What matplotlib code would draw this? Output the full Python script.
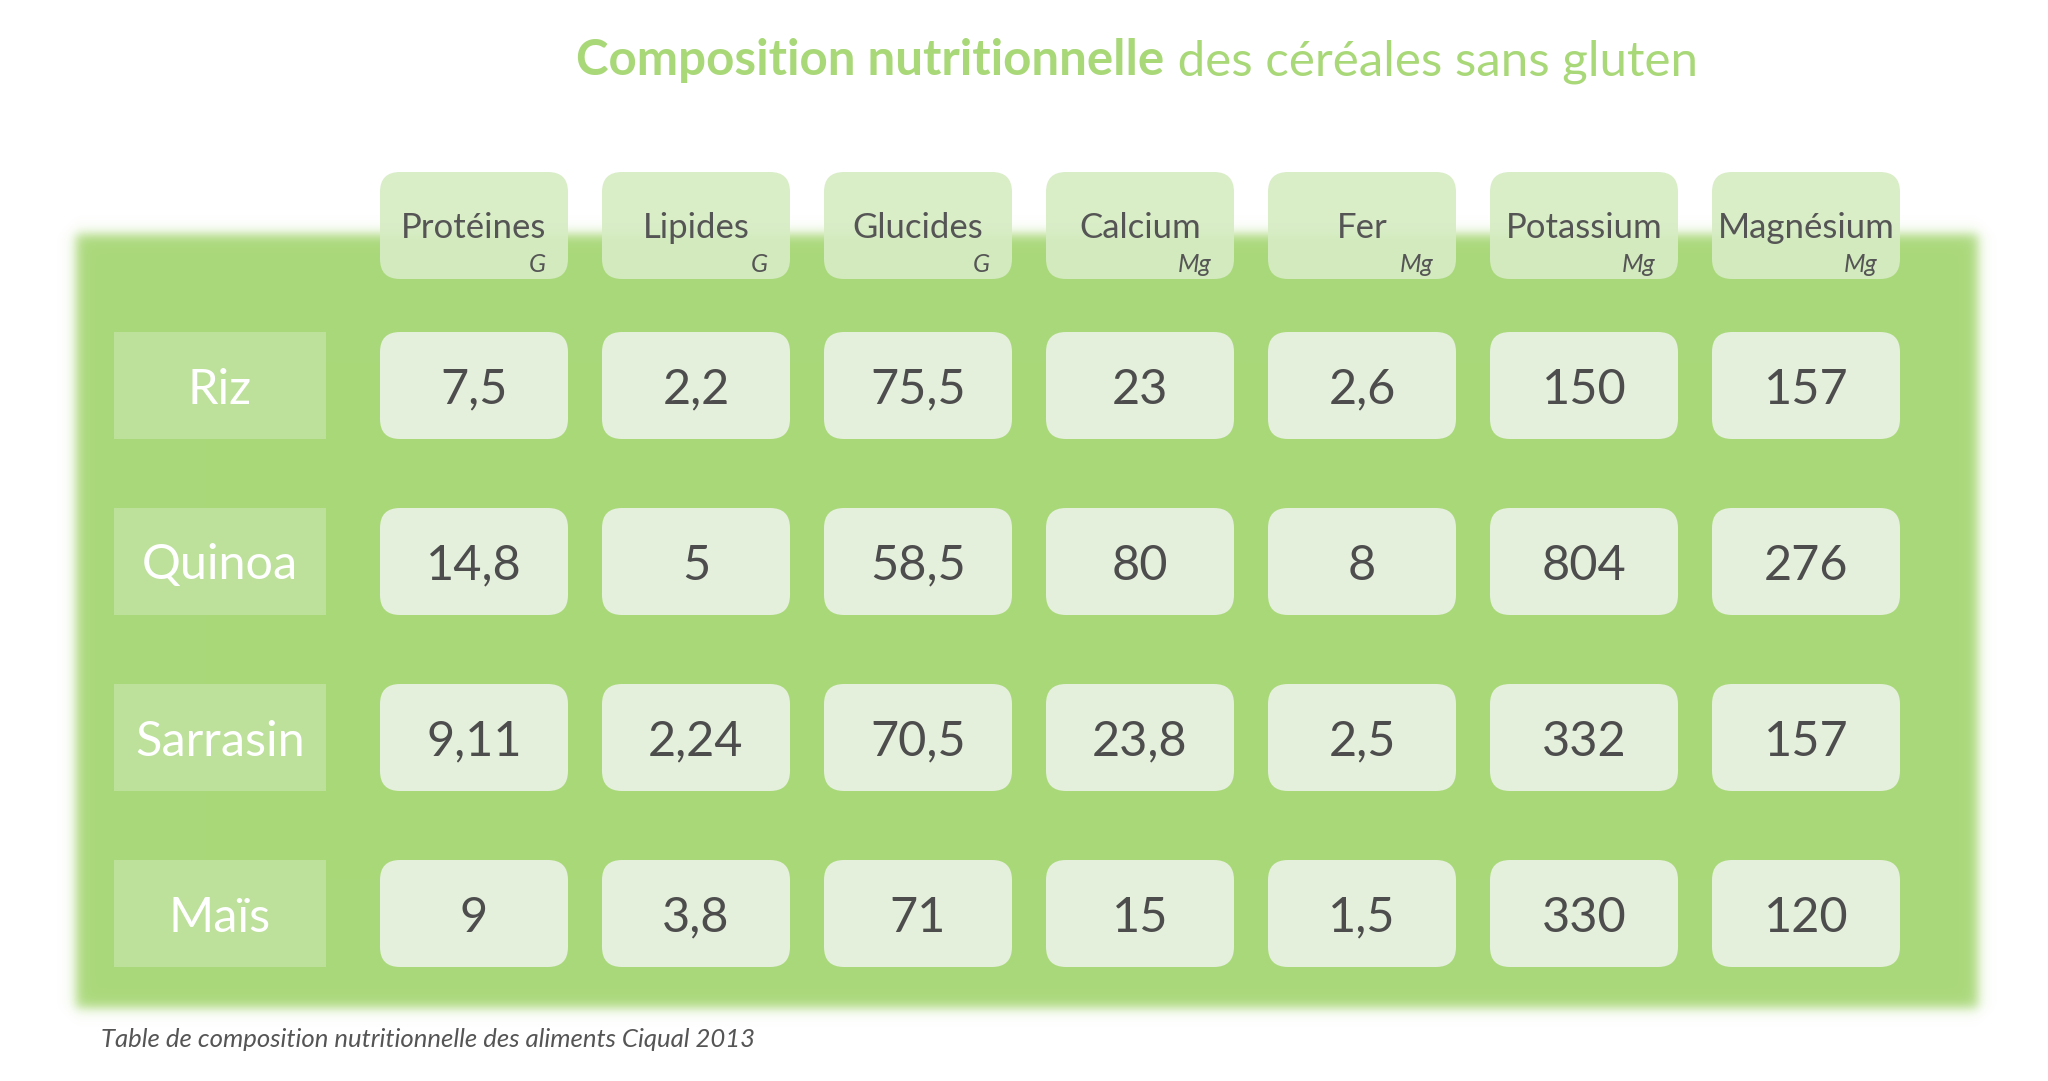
import numpy as np
import matplotlib
matplotlib.use("Agg")
import matplotlib.pyplot as plt
from matplotlib.patches import FancyBboxPatch, Rectangle

# === DATA ====================================================================
cereals = ["Riz", "Quinoa", "Sarrasin", "Maïs"]
nutrients = ["Protéines", "Lipides", "Glucides", "Calcium", "Fer", "Potassium", "Magnésium"]
units = ["G", "G", "G", "Mg", "Mg", "Mg", "Mg"]

riz = [7.5, 2.2, 75.5, 23, 2.6, 150, 157]
quinoa = [14.8, 5, 58.5, 80, 8, 804, 276]
sarrasin = [9.11, 2.24, 70.5, 23.8, 2.5, 332, 157]
mais = [9, 3.8, 71, 15, 1.5, 330, 120]
values = [riz, quinoa, sarrasin, mais]

title_bold = "Composition nutritionnelle"
title_rest = " des céréales sans gluten"
source = "Table de composition nutritionnelle des aliments Ciqual 2013"
# ============================================================================

W, H = 2048, 1081
GREEN = "#a9d879"
HEADER = "#d6ecc3"
CELL = "#e4f0dc"
LABEL = "#bde09b"
TXT = "#555555"

# layout (pixels)
col_x0, col_step, col_w = 380, 222, 188
row_y0, row_step, row_h = 332, 176, 107
head_y, head_h = 172, 107
lab_x, lab_w = 114, 212
radius = 20

plt.rcParams["font.family"] = ["Lato", "DejaVu Sans"]

fig = plt.figure(figsize=(W / 100, H / 100), dpi=100)
ax = fig.add_axes([0, 0, 1, 1])
ax.set_xlim(0, W)
ax.set_ylim(H, 0)
ax.axis("off")


def fmt(v):
    return f"{v:g}".replace(".", ",")


# soft-edged green panel
xx = np.arange(W) + 0.5
yy = np.arange(H) + 0.5
px0, px1, py0, py1, blur = 76, 1978, 234, 1008, 7
mx = 0.5 * (np.tanh((xx - px0) / blur) - np.tanh((xx - px1) / blur))
my = 0.5 * (np.tanh((yy - py0) / blur) - np.tanh((yy - py1) / blur))
mask = np.outer(my, mx)
rgb = np.array(matplotlib.colors.to_rgb(GREEN))
img = np.zeros((H, W, 4))
img[..., :3] = rgb
img[..., 3] = mask
ax.imshow(img, extent=(0, W, H, 0), interpolation="bilinear", zorder=0)


def rbox(x, y, w, h, color, alpha=1.0):
    p = FancyBboxPatch((x + radius, y + radius), w - 2 * radius, h - 2 * radius,
                       boxstyle=f"round,pad={radius}", facecolor=color,
                       edgecolor="none", alpha=alpha, zorder=2)
    ax.add_patch(p)


# header cells
for j, (name, unit) in enumerate(zip(nutrients, units)):
    x = col_x0 + j * col_step
    rbox(x, head_y, col_w, head_h, HEADER, alpha=0.92)
    ax.text(x + col_w / 2, head_y + 66, name, ha="center", va="baseline",
            fontsize=25, color=TXT, zorder=3)
    ax.text(x + col_w - 22, head_y + 100, unit, ha="right", va="baseline",
            fontsize=18, color=TXT, style="italic", zorder=3)

# rows
for i, (cereal, vals) in enumerate(zip(cereals, values)):
    y = row_y0 + i * row_step
    ax.add_patch(Rectangle((lab_x, y), lab_w, row_h, facecolor=LABEL,
                           edgecolor="none", zorder=2))
    ax.text(lab_x + lab_w / 2, y + row_h / 2, cereal, ha="center", va="center_baseline",
            fontsize=35, color="white", zorder=3)
    for j, v in enumerate(vals):
        x = col_x0 + j * col_step
        rbox(x, y, col_w, row_h, CELL)
        ax.text(x + col_w / 2, y + row_h / 2, fmt(v), ha="center",
                va="center_baseline", fontsize=35, color="#4d4d4d", zorder=3)

# title in two weights, centred as a whole
t1 = ax.text(0, 75, title_bold, ha="left", va="baseline", fontsize=35.5,
             fontweight="bold", color=GREEN)
t2 = ax.text(0, 75, title_rest, ha="left", va="baseline", fontsize=35.5,
             color=GREEN)
fig.canvas.draw()
r = fig.canvas.get_renderer()
w1 = t1.get_window_extent(r).width
w2 = t2.get_window_extent(r).width
x_start = 1137 - (w1 + w2) / 2
t1.set_x(x_start)
t2.set_x(x_start + w1)

ax.text(101, 1047, source, ha="left", va="baseline", fontsize=18.5,
        style="italic", color="#555555")

fig.savefig("out.png", dpi=100, facecolor="white")
